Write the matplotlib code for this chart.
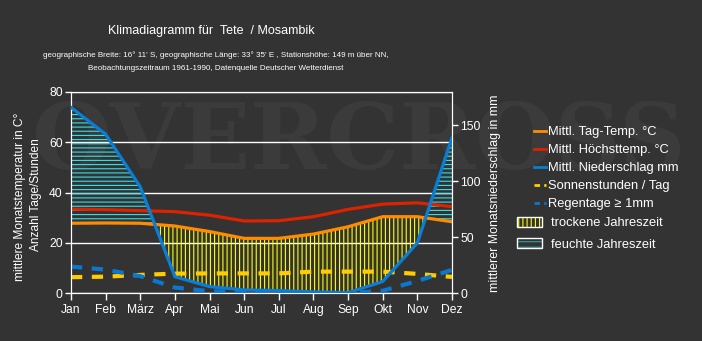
import matplotlib
matplotlib.use("Agg")
import matplotlib.pyplot as plt
import numpy as np
from matplotlib.lines import Line2D
from matplotlib.patches import Patch
from matplotlib.legend_handler import HandlerTuple

plt.rcParams['font.family'] = ['Liberation Sans', 'DejaVu Sans']
plt.rcParams['hatch.linewidth'] = 0.8

# Monthly climate values, Tete (1961-1990)
months = ['Jan', 'Feb', 'März', 'Apr', 'Mai', 'Jun',
          'Jul', 'Aug', 'Sep', 'Okt', 'Nov', 'Dez']
temp_mean = [27.8, 27.9, 27.8, 26.7, 24.5, 21.8, 21.8, 23.5, 26.4, 30.4, 30.4, 28.4]
temp_max = [33.4, 33.2, 32.8, 32.4, 31.0, 28.7, 28.8, 30.4, 33.3, 35.4, 35.9, 34.4]
precip = [166.0, 142.0, 95.0, 14.8, 6.0, 3.0, 2.4, 1.2, 0.6, 10.5, 45.0, 139.0]
sun_hours = [6.4, 6.6, 7.3, 7.8, 7.9, 7.9, 7.9, 8.6, 8.6, 8.6, 7.7, 6.5]
rain_days = [10.6, 9.4, 6.8, 2.3, 0.8, 0.6, 0.3, 0.0, 0.1, 1.0, 4.9, 9.3]

BG = '#333333'
TEMP_MAX = 80
PREC_MAX = 180

x = np.arange(len(months))
tm = np.array(temp_mean)
p_scaled = np.array(precip) * TEMP_MAX / PREC_MAX

fig = plt.figure(figsize=(7.02, 3.41), dpi=100, facecolor=BG)

# faint watermark behind the chart
fig.text(358 / 702, 1 - 143 / 341, 'OVERCROSS', ha='center', va='center',
         color='#3b3b3b', fontsize=66, fontweight='bold',
         family='DejaVu Serif', zorder=-5)

ax = fig.add_axes([71 / 702, 1 - 293.3 / 341, 381 / 702, 201.6 / 341])
ax.set_facecolor('none')
ax2 = ax.twinx()

# dry and humid seasons
ax.fill_between(x, tm, p_scaled, where=p_scaled <= tm, interpolate=True,
                facecolor='none', edgecolor='#ffff00', hatch='||||',
                linewidth=0, zorder=1)
ax.fill_between(x, tm, p_scaled, where=p_scaled >= tm, interpolate=True,
                facecolor='none', edgecolor='#33e0e8', hatch='----',
                linewidth=0, zorder=1)

ax.plot(x, sun_hours, color='#ffcc00', lw=3, dashes=(2.7, 2.3), zorder=3)
ax.plot(x, rain_days, color='#0a78d0', lw=3, dashes=(2.7, 2.3), zorder=3)
ax.plot(x, temp_max, color='#dd2200', lw=2.3, zorder=4)
ax.plot(x, temp_mean, color='#ff8c00', lw=2.3, zorder=4)
ax2.plot(x, precip, color='#0a7ed4', lw=2.3, zorder=5)

ax.set_xlim(0, 11)
ax.set_ylim(0, TEMP_MAX)
ax2.set_ylim(0, PREC_MAX)
ax.set_xticks(x)
ax.set_xticklabels(months)
ax.set_yticks([0, 20, 40, 60, 80])
ax2.set_yticks([0, 50, 100, 150])
ax.yaxis.grid(True, color='white', lw=1)
ax.set_axisbelow(True)

for a in (ax, ax2):
    for s in a.spines.values():
        s.set_color('white')
    a.tick_params(colors='white', labelcolor='white', direction='out',
                  length=4, width=1, labelsize=8.7, pad=2)
ax.tick_params(axis='x', length=5, pad=3)

fig.text(20 / 702, 1 - 197 / 341, 'mittlere Monatstemperatur in C°',
         rotation=90, ha='center', va='center', color='white', fontsize=8.6)
fig.text(36 / 702, 1 - 195 / 341, 'Anzahl Tage/Stunden',
         rotation=90, ha='center', va='center', color='white', fontsize=8.6)
fig.text(495 / 702, 1 - 193.5 / 341, 'mittlerer Monatsniederschlag in mm',
         rotation=90, ha='center', va='center', color='white', fontsize=8.9)

fig.text(211 / 702, 1 - 31 / 341, 'Klimadiagramm für  Tete  / Mosambik',
         ha='center', va='center', color='white', fontsize=9.0)
fig.text(216 / 702, 1 - 55 / 341,
         "geographische Breite: 16° 11' S, geographische Länge: 33° 35' E , "
         "Stationshöhe: 149 m über NN,",
         ha='center', va='center', color='white', fontsize=5.8)
fig.text(216 / 702, 1 - 69 / 341,
         'Beobachtungszeitraum 1961-1990, Datenquelle Deutscher Wetterdienst',
         ha='center', va='center', color='white', fontsize=5.8)

line_handles = [
    Line2D([], [], color='#ff8c00', lw=2),
    Line2D([], [], color='#dd2200', lw=2),
    Line2D([], [], color='#0a7ed4', lw=2),
    Line2D([], [], color='#ffcc00', lw=2, dashes=(2, 1.5)),
    Line2D([], [], color='#0a78d0', lw=2, dashes=(2, 1.5)),
]
line_labels = ['Mittl. Tag-Temp. °C', 'Mittl. Höchsttemp. °C',
               'Mittl. Niederschlag mm', 'Sonnenstunden / Tag',
               'Regentage ≥ 1mm']
fig.legend(line_handles, line_labels, loc='upper left',
           bbox_to_anchor=(534 / 702, 1 - 126 / 341), frameon=False,
           borderpad=0, borderaxespad=0, handlelength=0.95,
           handletextpad=0.1, labelspacing=0.47, fontsize=9.3,
           labelcolor='white')

season_handles = [
    (Patch(facecolor='none', edgecolor='#ffff00', hatch='||||', lw=0),
     Patch(facecolor='none', edgecolor='white', lw=1)),
    (Patch(facecolor='none', edgecolor='#2aa3a0', hatch='---', lw=0),
     Patch(facecolor='none', edgecolor='white', lw=1)),
]
fig.legend(season_handles, ['trockene Jahreszeit', 'feuchte Jahreszeit'],
           handler_map={tuple: HandlerTuple(ndivide=1, pad=0)},
           loc='upper left', bbox_to_anchor=(517 / 702, 1 - 217 / 341),
           frameon=False, borderpad=0, borderaxespad=0, handlelength=1.95,
           handleheight=0.8, handletextpad=0.7, labelspacing=0.68,
           fontsize=9.3, labelcolor='white')

fig.savefig('out.png', dpi=100, facecolor=BG)
